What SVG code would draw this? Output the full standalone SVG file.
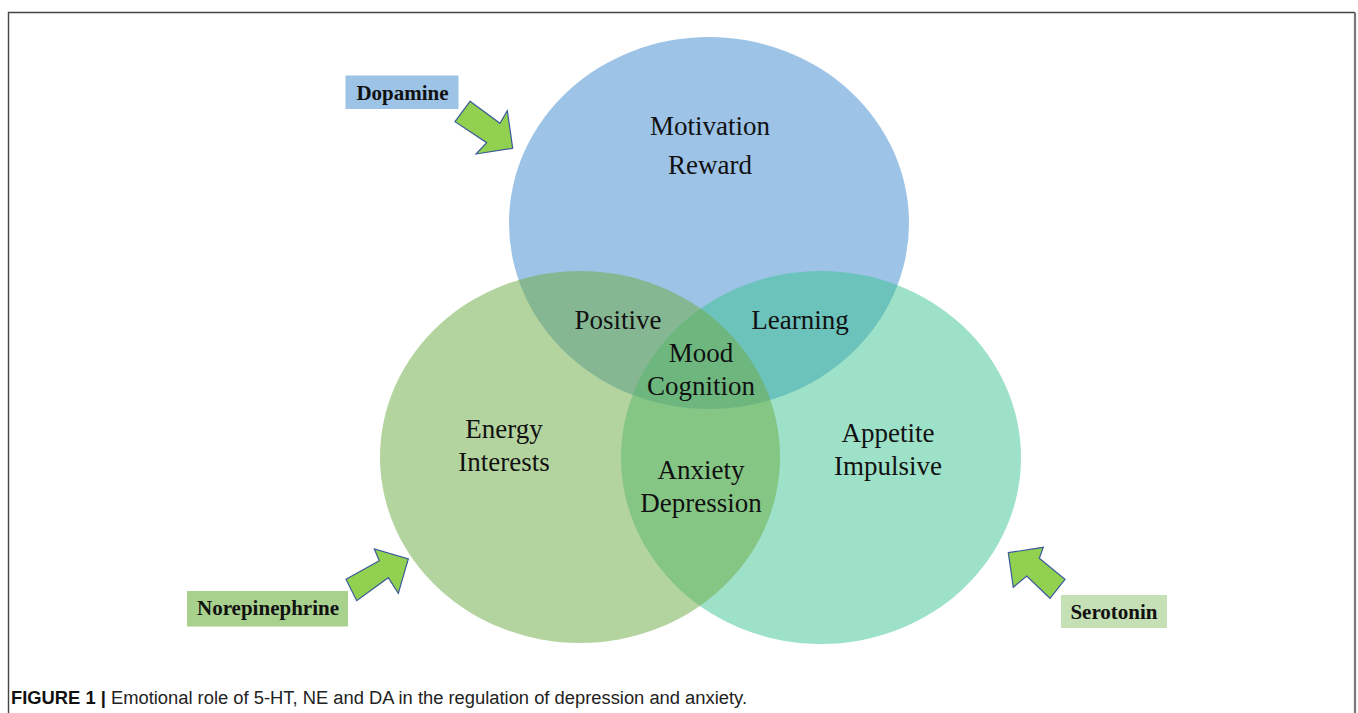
<svg xmlns="http://www.w3.org/2000/svg" width="1358" height="713" viewBox="0 0 1358 713">
  <style>
    .region { font-family: "Liberation Serif", "Times New Roman", serif; font-size: 27px; fill: #111; text-anchor: middle; }
    .tag { font-family: "Liberation Serif", "Times New Roman", serif; font-size: 21px; font-weight: bold; fill: #111; text-anchor: middle; }
    .arrow { fill: #92D050; stroke: #3A5A9A; stroke-width: 1.2; stroke-linejoin: miter; }
    .caption { font-family: "Liberation Sans", Arial, sans-serif; font-size: 18px; fill: #222; }
  </style>

  <rect x="0" y="0" width="1358" height="713" fill="#ffffff"/>
  <!-- figure frame (open at the bottom edge) -->
  <path d="M8.5 713 V12.5 H1355" fill="none" stroke="#444" stroke-width="1.4"/>
  <path d="M1355 12.5 V713" fill="none" stroke="#777" stroke-width="2.2"/>

  <!-- three overlapping sets -->
  <g id="set-dopamine">
    <ellipse cx="709" cy="223" rx="200" ry="186" fill="#5B9BD5" fill-opacity="0.6"/>
  </g>
  <g id="set-serotonin">
    <ellipse cx="821" cy="457.5" rx="200" ry="186.5" fill="#3CC391" fill-opacity="0.5"/>
  </g>
  <g id="set-norepinephrine">
    <ellipse cx="580" cy="457" rx="200" ry="186" fill="#70AD47" fill-opacity="0.52"/>
  </g>

  <!-- region labels -->
  <g id="labels">
    <text class="region" x="710" y="135">Motivation</text>
    <text class="region" x="710" y="174">Reward</text>
    <text class="region" x="618" y="329">Positive</text>
    <text class="region" x="800" y="329">Learning</text>
    <text class="region" x="701" y="362">Mood</text>
    <text class="region" x="701" y="395">Cognition</text>
    <text class="region" x="504" y="438">Energy</text>
    <text class="region" x="504" y="471">Interests</text>
    <text class="region" x="888" y="442">Appetite</text>
    <text class="region" x="888" y="475">Impulsive</text>
    <text class="region" x="701" y="479">Anxiety</text>
    <text class="region" x="701" y="512">Depression</text>
  </g>

  <!-- neurotransmitter tags -->
  <g id="tag-dopamine">
    <rect x="345.5" y="75.5" width="113" height="33.5" fill="#9DC3E6"/>
    <text class="tag" x="402.5" y="99.5">Dopamine</text>
  </g>
  <g id="tag-norepinephrine">
    <rect x="187" y="591" width="161" height="35.5" fill="#A9D18E"/>
    <text class="tag" x="268" y="614.5">Norepinephrine</text>
  </g>
  <g id="tag-serotonin">
    <rect x="1061" y="595" width="106" height="33" fill="#C5E0B4"/>
    <text class="tag" x="1114" y="618.5">Serotonin</text>
  </g>

  <!-- block arrows pointing into the sets -->
  <g id="connectors">
    <polygon class="arrow" points="470,101.3 500,123.3 507.3,110.7 512.7,148.3 476,154 486.7,142.7 455,121.7"/>
    <polygon class="arrow" points="346,579.3 379.3,560.7 374.3,549 408.3,559 398.3,593.3 388.3,577.7 356.7,600.7"/>
    <polygon class="arrow" points="1008.3,552.7 1043.3,547.3 1039.3,558.3 1065,579.3 1050,598.3 1026.7,576 1013.3,587.3"/>
  </g>

  <text class="caption" x="11" y="704" textLength="736" lengthAdjust="spacingAndGlyphs"><tspan font-weight="bold" fill="#111">FIGURE 1 |</tspan> Emotional role of 5-HT, NE and DA in the regulation of depression and anxiety.</text>
</svg>
